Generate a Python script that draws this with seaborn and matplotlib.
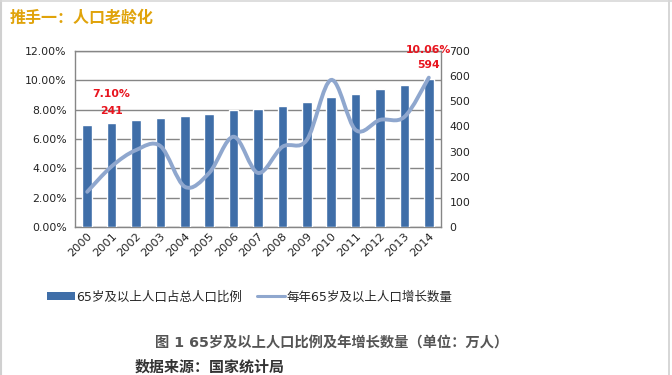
import numpy as np
import pandas as pd
import seaborn as sns
import matplotlib.pyplot as plt
from matplotlib.path import Path
from matplotlib.patches import PathPatch, Patch
from matplotlib.lines import Line2D
import matplotlib.ticker as mtick

years = [str(y) for y in range(2000, 2015)]
share_pct = [6.96, 7.10, 7.30, 7.45, 7.58, 7.69, 7.95, 8.05, 8.25, 8.50, 8.87, 9.10, 9.40, 9.67, 10.06]
growth = [140, 241, 306, 322, 160, 215, 359, 215, 319, 346, 585, 386, 426, 438, 594]

title = "推手一：人口老龄化"
legend_bar = "65岁及以上人口占总人口比例"
legend_line = "每年65岁及以上人口增长数量"
caption = "图 1 65岁及以上人口比例及年增长数量（单位：万人）"
source = "数据来源：国家统计局"

sns.set_style("white")
plt.rcParams["font.family"] = ["DejaVu Sans", "Noto Sans CJK SC"]

bar_color = "#3F6EA8"
line_color = "#8FA7CE"
grid_color = "#868686"

df = pd.DataFrame({"year": years, "share": share_pct, "growth": growth})

fig = plt.figure(figsize=(6.72, 3.75), dpi=100)
ax = fig.add_axes([75 / 672, 1 - 227 / 375, 366 / 672, 176 / 375])

sns.barplot(data=df, x="year", y="share", color=bar_color, width=0.39,
            saturation=1, ax=ax, zorder=3)
ax.set_ylim(0, 12)
ax.set_xlim(-0.5, 14.5)
ax.set_yticks(np.arange(0, 12.1, 2))
ax.yaxis.set_major_formatter(mtick.FuncFormatter(lambda v, p: f"{v:.2f}%"))
ax.grid(axis="y", color=grid_color, linewidth=1.0, zorder=0)
ax.set_axisbelow(True)
ax.set_xlabel("")
ax.set_ylabel("")
for s in ax.spines.values():
    s.set_color(grid_color)
    s.set_linewidth(1.0)
ax.tick_params(axis="y", labelsize=7.8, colors="#222222", length=0, pad=6)
ax.tick_params(axis="x", labelsize=8.2, colors="#222222", length=0, pad=3)
plt.setp(ax.get_xticklabels(), rotation=45, ha="right", rotation_mode="anchor")

ax2 = ax.twinx()
ax2.set_ylim(0, 700)
ax2.set_yticks(np.arange(0, 701, 100))
ax2.tick_params(axis="y", labelsize=7.8, colors="#222222", length=0, pad=6)
for s in ax2.spines.values():
    s.set_visible(False)

# smooth curve through the points (Catmull-Rom as cubic Bezier)
pts = np.column_stack([np.arange(len(growth)), np.array(growth, dtype=float)])
verts = [pts[0]]
codes = [Path.MOVETO]
n = len(pts)
for i in range(n - 1):
    p0 = pts[max(i - 1, 0)]
    p1 = pts[i]
    p2 = pts[i + 1]
    p3 = pts[min(i + 2, n - 1)]
    c1 = p1 + (p2 - p0) / 6
    c2 = p2 - (p3 - p1) / 6
    verts += [c1, c2, p2]
    codes += [Path.CURVE4] * 3
ax2.add_patch(PathPatch(Path(verts, codes), facecolor="none", edgecolor=line_color,
                        linewidth=2.8, capstyle="round", zorder=4))

red = "#E8141E"
ax2.annotate(f"{share_pct[1]:.2f}%", (1, growth[1]), xytext=(0, 52), textcoords="offset points",
             ha="center", va="center", color=red, fontsize=7.8, fontweight="bold")
ax2.annotate(f"{growth[1]}", (1, growth[1]), xytext=(0, 40), textcoords="offset points",
             ha="center", va="center", color=red, fontsize=7.8, fontweight="bold")
ax2.annotate(f"{share_pct[-1]:.2f}%", (14, growth[-1]), xytext=(0, 20), textcoords="offset points",
             ha="center", va="center", color=red, fontsize=7.8, fontweight="bold")
ax2.annotate(f"{growth[-1]}", (14, growth[-1]), xytext=(0, 9), textcoords="offset points",
             ha="center", va="center", color=red, fontsize=7.8, fontweight="bold")

handles = [Patch(facecolor=bar_color, edgecolor="none"),
           Line2D([0], [0], color=line_color, linewidth=2.2)]
fig.legend(handles, [legend_bar, legend_line], loc="center left",
           bbox_to_anchor=(42 / 672, 1 - 297 / 375), ncol=2, frameon=False,
           fontsize=9.0, handlelength=2.2, handleheight=0.65, columnspacing=1.2,
           handletextpad=0.15, borderaxespad=0)

fig.text(10 / 672, 1 - 18 / 375, title, color="#E0A30A", fontsize=11.5,
         fontweight="bold", ha="left", va="center")
fig.text(332 / 672, 1 - 343 / 375, caption, color="#555555", fontsize=10.3,
         fontweight="bold", ha="center", va="center")
fig.text(135 / 672, 1 - 367 / 375, source, color="#333333", fontsize=10.8,
         fontweight="bold", ha="left", va="center")

# page frame
fig.add_artist(Line2D([0.002, 0.002], [0, 1], color="#D0D0D0", linewidth=1.5, transform=fig.transFigure))
fig.add_artist(Line2D([669 / 672, 669 / 672], [0, 1], color="#D0D0D0", linewidth=1.2, transform=fig.transFigure))
fig.add_artist(Line2D([0, 1], [0.998, 0.998], color="#D8D8D8", linewidth=1.2, transform=fig.transFigure))

fig.savefig("out.png", dpi=100)
